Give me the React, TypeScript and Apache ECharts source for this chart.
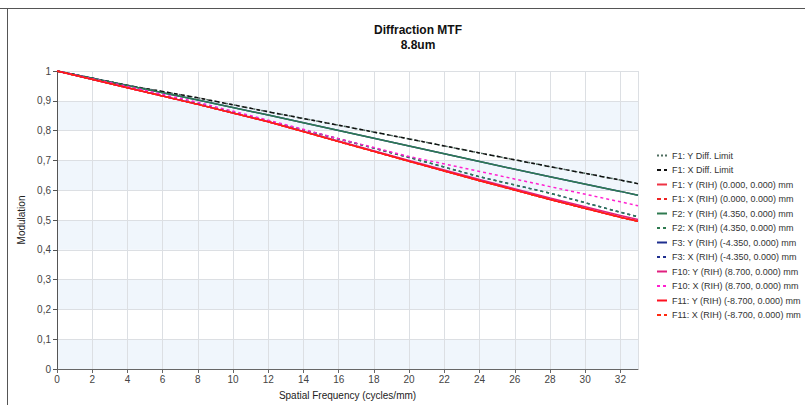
import React, { useEffect, useRef } from "react";
import * as echarts from "echarts";

const freqs = [0, 4, 8, 12, 16, 20, 24, 28, 32, 33];

const diffLimitY = [1, 0.952, 0.91, 0.863, 0.818, 0.772, 0.725, 0.679, 0.634, 0.622];
const diffLimitX = [1, 0.952, 0.91, 0.863, 0.818, 0.772, 0.725, 0.679, 0.634, 0.622];
const f1Y = [1, 0.944, 0.888, 0.83, 0.763, 0.697, 0.632, 0.569, 0.509, 0.496];
const f1X = [1, 0.944, 0.888, 0.83, 0.763, 0.697, 0.632, 0.569, 0.509, 0.496];
const f2Y = [1, 0.951, 0.903, 0.852, 0.8, 0.748, 0.696, 0.645, 0.596, 0.583];
const f2X = [1, 0.945, 0.89, 0.832, 0.772, 0.71, 0.645, 0.59, 0.526, 0.511];
const f3Y = [1, 0.951, 0.903, 0.852, 0.8, 0.748, 0.696, 0.645, 0.596, 0.583];
const f3X = [1, 0.945, 0.89, 0.832, 0.772, 0.71, 0.645, 0.59, 0.526, 0.511];
const f10Y = [1, 0.944, 0.888, 0.83, 0.765, 0.7, 0.636, 0.574, 0.515, 0.502];
const f10X = [1, 0.948, 0.895, 0.835, 0.773, 0.713, 0.663, 0.612, 0.561, 0.548];
const f11Y = [1, 0.944, 0.888, 0.83, 0.763, 0.697, 0.632, 0.569, 0.509, 0.496];
const f11X = [1, 0.944, 0.888, 0.83, 0.763, 0.697, 0.632, 0.569, 0.509, 0.496];

const seriesDefs = [
  { name: "F1: Y Diff. Limit", data: diffLimitY, color: "#4f6e60", type: [2, 2], z: 2 },
  { name: "F1: X Diff. Limit", data: diffLimitX, color: "#111111", type: [4, 3], z: 3 },
  { name: "F1: Y (RIH) (0.000, 0.000) mm", data: f1Y, color: "#ee3344", type: "solid", z: 2 },
  { name: "F1: X (RIH) (0.000, 0.000) mm", data: f1X, color: "#ee2222", type: [4, 3], z: 2 },
  { name: "F2: Y (RIH) (4.350, 0.000) mm", data: f2Y, color: "#2e7a50", type: "solid", z: 3 },
  { name: "F2: X (RIH) (4.350, 0.000) mm", data: f2X, color: "#2e7a50", type: [3, 3], z: 3 },
  { name: "F3: Y (RIH) (-4.350, 0.000) mm", data: f3Y, color: "#1f2f8f", type: "solid", z: 2 },
  { name: "F3: X (RIH) (-4.350, 0.000) mm", data: f3X, color: "#1f2f8f", type: [3, 3], z: 2 },
  { name: "F10: Y (RIH) (8.700, 0.000) mm", data: f10Y, color: "#e0207f", type: "solid", z: 3 },
  { name: "F10: X (RIH) (8.700, 0.000) mm", data: f10X, color: "#ff20d0", type: [3, 3], z: 3 },
  { name: "F11: Y (RIH) (-8.700, 0.000) mm", data: f11Y, color: "#ff1020", type: "solid", z: 4 },
  { name: "F11: X (RIH) (-8.700, 0.000) mm", data: f11X, color: "#ff2a10", type: [4, 3], z: 4 },
];

const FONT = "Arial, 'Liberation Sans', sans-serif";

export default function App() {
  const ref = useRef<HTMLDivElement>(null);
  useEffect(() => {
    if (!ref.current) return;
    const chart = echarts.init(ref.current, null, { renderer: "svg" });
    chart.setOption({
      animation: false,
      backgroundColor: "#ffffff",
      textStyle: { fontFamily: FONT },
      title: {
        text: "Diffraction MTF",
        subtext: "8.8um",
        left: 413,
        textAlign: "center",
        top: 19,
        itemGap: 3,
        textStyle: { fontFamily: FONT, fontSize: 12, fontWeight: "bold", color: "#111" },
        subtextStyle: { fontFamily: FONT, fontSize: 12, fontWeight: "bold", color: "#111" },
      },
      graphic: [
        { type: "line", shape: { x1: 0, y1: 8.5, x2: 805, y2: 8.5 }, style: { stroke: "#555", lineWidth: 1 } },
        { type: "line", shape: { x1: 7.5, y1: 8.5, x2: 7.5, y2: 405 }, style: { stroke: "#555", lineWidth: 1 } },
      ],
      legend: {
        orient: "vertical",
        left: 651,
        top: 146,
        itemWidth: 10,
        itemHeight: 10,
        itemGap: 5.5,
        data: seriesDefs.map((s) => s.name),
        itemStyle: { opacity: 0 },
        textStyle: { fontFamily: FONT, fontSize: 9, color: "#333" },
        selectedMode: false,
      },
      grid: { left: 57, right: 167, top: 71, bottom: 35 },
      xAxis: {
        type: "value",
        min: 0,
        max: 33,
        interval: 2,
        name: "Spatial Frequency (cycles/mm)",
        nameLocation: "middle",
        nameGap: 21,
        nameTextStyle: { fontFamily: FONT, fontSize: 10, color: "#222" },
        axisLine: { lineStyle: { color: "#666" } },
        axisTick: { length: 4, lineStyle: { color: "#666" } },
        axisLabel: {
          fontFamily: FONT,
          fontSize: 10,
          color: "#444",
          margin: 5,
          showMaxLabel: false,
          formatter: (v: number) => (v === 33 ? "" : String(v)),
        },
        splitLine: { show: true, lineStyle: { color: "#dcdfe3" } },
      },
      yAxis: {
        type: "value",
        min: 0,
        max: 1,
        interval: 0.1,
        name: "Modulation",
        nameLocation: "middle",
        nameGap: 31,
        nameRotate: 90,
        nameTextStyle: { fontFamily: FONT, fontSize: 10, color: "#222" },
        axisLine: { show: true, lineStyle: { color: "#555" } },
        axisTick: { show: true, length: 4, lineStyle: { color: "#555" } },
        axisLabel: {
          fontFamily: FONT,
          fontSize: 10,
          color: "#444",
          margin: 6,
          formatter: (v: number) => {
            if (v === 0) return "0";
            if (v === 1) return "1";
            return v.toFixed(1).replace(".", ",");
          },
        },
        splitLine: { show: true, lineStyle: { color: "#dcdfe3" } },
        splitArea: { show: true, areaStyle: { color: ["#f0f6fc", "#ffffff"] } },
      },
      series: seriesDefs.map((s) => ({
        name: s.name,
        type: "line",
        data: freqs.map((f, i) => [f, s.data[i]]),
        symbol: "none",
        z: s.z,
        color: s.color,
        lineStyle: { color: s.color, width: 1.5, type: s.type },
      })),
    });
    return () => chart.dispose();
  }, []);
  return <div ref={ref} style={{ width: 805, height: 405, position: "absolute", left: 0, top: 0 }} />;
}
